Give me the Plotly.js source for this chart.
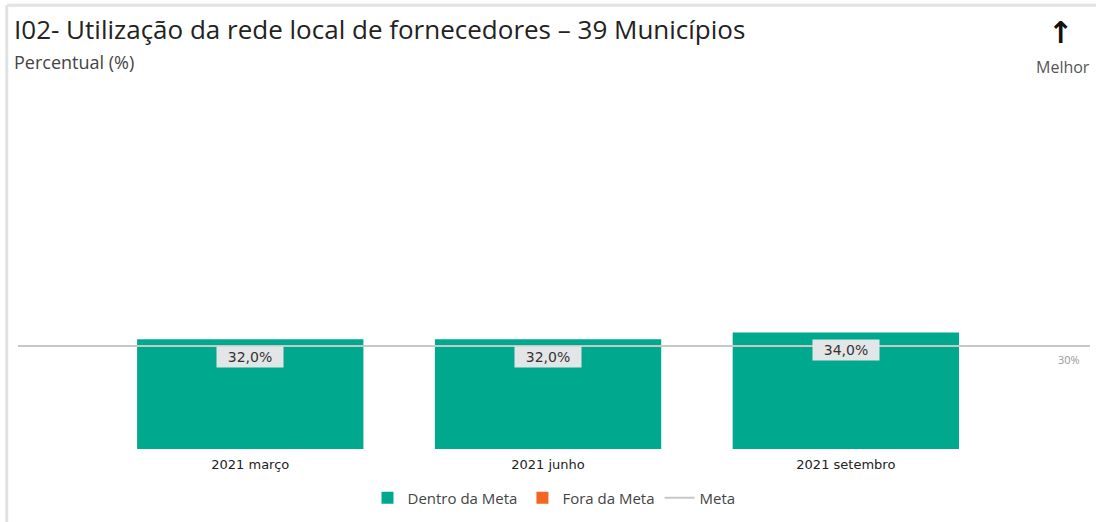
<!DOCTYPE html>
<html>
<head>
<meta charset="utf-8">
<script src="https://cdn.plot.ly/plotly-3.0.1.min.js"></script>
<style>
  html, body { margin: 0; padding: 0; background: #fff; }
  #chart { width: 1096px; height: 522px; }
</style>
</head>
<body>
<div id="chart"></div>
<script>
// Data
const categories = ["2021 março", "2021 junho", "2021 setembro"];
const values = [32.0, 32.0, 34.0];
const meta = 30;

// Colours
const COLOR_DENTRO = "#00A88E";
const COLOR_FORA = "#F26522";
const COLOR_META = "#C8C8C8";

// Split bars into in/out of target
const dentroValues = values.map((v) => (v >= meta ? v : null));
const foraValues = values.map((v) => (v < meta ? v : null));

const formatPct = (v) => v.toFixed(1).replace(".", ",") + "%";

const traces = [
  {
    type: "bar",
    name: "Dentro da Meta",
    x: categories,
    y: dentroValues,
    marker: { color: COLOR_DENTRO },
    hoverinfo: "skip",
  },
  {
    type: "bar",
    name: "Fora da Meta",
    x: categories,
    y: foraValues,
    marker: { color: COLOR_FORA },
    hoverinfo: "skip",
  },
  // Meta line on an overlay axis so it runs across the whole plot
  {
    type: "scatter",
    mode: "lines",
    name: "Meta",
    xaxis: "x2",
    x: [0, 1],
    y: [meta, meta],
    line: { color: COLOR_META, width: 2 },
    hoverinfo: "skip",
  },
];

// Value labels in a grey box, just under each bar top
const labelAnnotations = values.map((v, i) => ({
  x: categories[i],
  y: v,
  xref: "x",
  yref: "y",
  yanchor: "top",
  yshift: -7,
  width: 64,
  height: 18,
  text: formatPct(v),
  showarrow: false,
  bgcolor: "#E3E6E6",
  borderpad: 1,
  font: { family: "DejaVu Sans", size: 14, color: "#333" },
}));

const layout = {
  width: 1096,
  height: 522,
  paper_bgcolor: "#fff",
  plot_bgcolor: "#fff",
  margin: { l: 18, r: 6, t: 106, b: 73 },
  barmode: "overlay",
  bargap: 0.24,
  showlegend: true,
  legend: {
    orientation: "h",
    x: 0.5,
    xanchor: "center",
    y: -0.095,
    yanchor: "top",
    font: { family: "Open Sans", size: 15, color: "#444" },
    traceorder: "normal",
  },
  xaxis: {
    type: "category",
    range: [-0.78, 2.82],
    showgrid: false,
    zeroline: false,
    showline: false,
    ticks: "",
    ticklabelstandoff: 6,
    tickfont: { family: "DejaVu Sans", size: 13, color: "#222" },
    fixedrange: true,
  },
  xaxis2: {
    overlaying: "x",
    range: [0, 1],
    visible: false,
    fixedrange: true,
  },
  yaxis: {
    range: [0, 100],
    visible: false,
    fixedrange: true,
  },
  shapes: [
    // light frame
    {
      type: "line",
      xref: "paper",
      yref: "paper",
      x0: -0.01,
      x1: 1.01,
      y0: 1.294,
      y1: 1.294,
      line: { color: "#E2E2E2", width: 3 },
    },
    {
      type: "line",
      xref: "paper",
      yref: "paper",
      x0: -0.0105,
      x1: -0.0105,
      y0: 1.294,
      y1: -0.22,
      line: { color: "#E2E2E2", width: 3 },
    },
  ],
  annotations: [
    {
      xref: "paper",
      yref: "paper",
      x: -0.006,
      y: 1.282,
      xanchor: "left",
      yanchor: "top",
      text: "I02- Utilização da rede local de fornecedores – 39 Municípios",
      showarrow: false,
      font: { family: "Open Sans", size: 26, color: "#222" },
    },
    {
      xref: "paper",
      yref: "paper",
      x: -0.006,
      y: 1.17,
      xanchor: "left",
      yanchor: "top",
      text: "Percentual (%)",
      showarrow: false,
      font: { family: "Open Sans", size: 18, color: "#444" },
    },
    {
      xref: "paper",
      yref: "paper",
      x: 0.9725,
      y: 1.27,
      xanchor: "center",
      yanchor: "top",
      text: "<b>↑</b>",
      showarrow: false,
      font: { family: "DejaVu Sans", size: 30, color: "#111" },
    },
    {
      xref: "paper",
      yref: "paper",
      x: 0.9745,
      y: 1.152,
      xanchor: "center",
      yanchor: "top",
      text: "Melhor",
      showarrow: false,
      font: { family: "Open Sans", size: 16, color: "#555" },
    },
    {
      xref: "paper",
      yref: "y",
      x: 0.993,
      y: meta,
      xanchor: "right",
      yanchor: "top",
      yshift: -4,
      text: meta + "%",
      showarrow: false,
      font: { family: "Open Sans", size: 11, color: "#999" },
    },
    ...labelAnnotations,
  ],
};

Plotly.newPlot("chart", traces, layout, {
  displayModeBar: false,
  responsive: false,
  staticPlot: true,
});
</script>
</body>
</html>
